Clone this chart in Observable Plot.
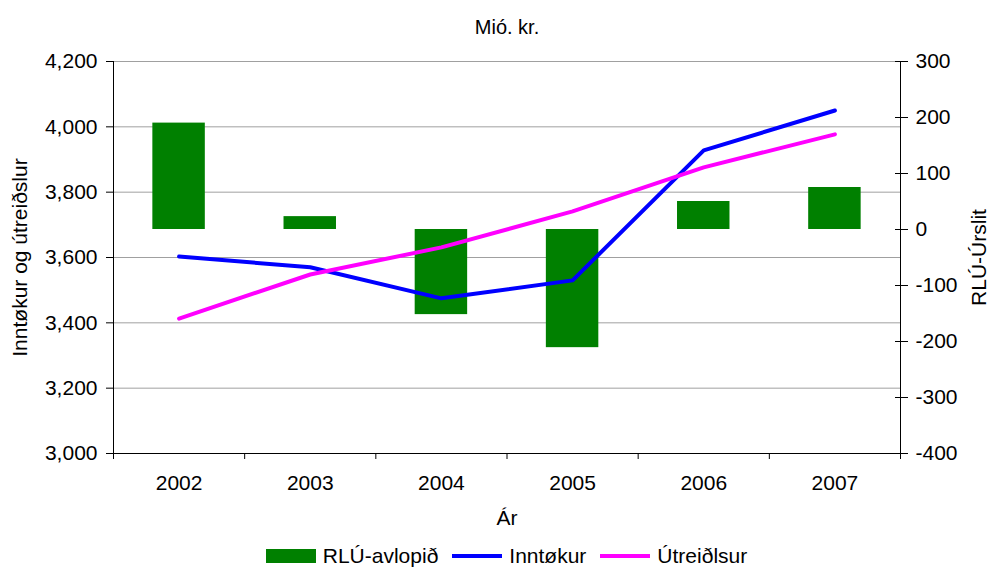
<!DOCTYPE html>
<html>
<head>
<meta charset="utf-8">
<script src="https://cdn.jsdelivr.net/npm/d3@7"></script>
<script src="https://cdn.jsdelivr.net/npm/@observablehq/plot@0.6"></script>
<style>
  body { margin: 0; background: #fff; font-family: "Liberation Sans", Arial, sans-serif; }
  #legend { display: flex; justify-content: center; align-items: center; padding-left: 24px; font-size: 21px; color: #000; height: 26px; margin-top: 3px; line-height: 24px; }
  #legend .item { display: flex; align-items: center; margin: 0 7px; }
  #legend .sw { display: inline-block; width: 50px; margin-right: 7px; }
</style>
</head>
<body>
<div id="chart"></div>
<div id="legend"></div>
<script>
const years = [2002, 2003, 2004, 2005, 2006, 2007];
const avlopid = [190, 23, -152, -211, 50, 75];
const inntokur = [3603, 3570, 3475, 3530, 3928, 4050];
const utreidslur = [3413, 3548, 3631, 3741, 3876, 3977];
const leftTicks = [3000, 3200, 3400, 3600, 3800, 4000, 4200];
const rightTicks = [-400, -300, -200, -100, 0, 100, 200, 300];
const seriesNames = ["RLÚ-avlopið", "Inntøkur", "Útreiðlsur"];
const seriesColors = ["#008000", "#0000ff", "#ff00ff"];

const leftDomain = [3000, 4200];
const rightDomain = [-400, 300];
const xDomain = [years[0] - 0.5, years[years.length - 1] + 0.5];
const boundaries = d3.range(xDomain[0], xDomain[1] + 0.01, 1);
const r2l = v => leftDomain[0] + (v - rightDomain[0]) * (leftDomain[1] - leftDomain[0]) / (rightDomain[1] - rightDomain[0]);
const l2r = v => rightDomain[0] + (v - leftDomain[0]) * (rightDomain[1] - rightDomain[0]) / (leftDomain[1] - leftDomain[0]);

const bars = years.map((y, i) => ({year: y, v: avlopid[i]}));
const lineA = years.map((y, i) => ({year: y, v: inntokur[i]}));
const lineB = years.map((y, i) => ({year: y, v: utreidslur[i]}));
const rightMapped = rightTicks.map(r2l);
const fmt = d3.format(",");

const chart = Plot.plot({
  width: 989,
  height: 540,
  marginLeft: 113,
  marginRight: 89,
  marginTop: 61,
  marginBottom: 87,
  style: {fontFamily: "'Liberation Sans', Arial, sans-serif", fontSize: "21px", color: "#000", background: "#fff"},
  x: {domain: xDomain},
  y: {domain: leftDomain},
  marks: [
    Plot.ruleY(leftTicks.slice(1), {stroke: "#a0a0a0", strokeWidth: 1}),
    Plot.rectY(bars, {x1: d => d.year - 0.2, x2: d => d.year + 0.2, y1: () => r2l(0), y2: d => r2l(d.v), fill: seriesColors[0]}),
    Plot.lineY(lineA, {x: "year", y: "v", stroke: seriesColors[1], strokeWidth: 4}),
    Plot.lineY(lineB, {x: "year", y: "v", stroke: seriesColors[2], strokeWidth: 4}),
    Plot.ruleX([xDomain[0]], {stroke: "#000"}),
    Plot.ruleX([xDomain[1]], {stroke: "#000"}),
    Plot.ruleY([leftDomain[0]], {stroke: "#000"}),
    Plot.axisY(leftTicks, {anchor: "left", tickSize: 7, tickPadding: 9, tickFormat: fmt, label: null, fontSize: 21}),
    Plot.axisY(rightMapped, {anchor: "right", tickSize: 13, dx: -6, tickFormat: () => "", label: null}),
    Plot.axisY(rightMapped, {anchor: "right", tickSize: 0, tickPadding: 15, tickFormat: d => String(Math.round(l2r(d))), label: null, fontSize: 21}),
    Plot.axisX(boundaries, {tickSize: 6, tickFormat: () => "", label: null}),
    Plot.axisX(years, {tickSize: 0, tickPadding: 22, tickFormat: d3.format("d"), label: null, fontSize: 21}),
    Plot.text(["Mió. kr."], {frameAnchor: "top", dy: -34, lineAnchor: "middle", fontSize: 20}),
    Plot.text(["Ár"], {frameAnchor: "bottom", dy: 65, lineAnchor: "middle", fontSize: 21}),
    Plot.text(["Inntøkur og útreiðslur"], {frameAnchor: "left", dx: -93, rotate: -90, textAnchor: "middle", lineAnchor: "middle", fontSize: 21}),
    Plot.text(["RLÚ-Úrslit"], {frameAnchor: "right", dx: 79, rotate: -90, textAnchor: "middle", lineAnchor: "middle", fontSize: 21})
  ]
});
document.getElementById("chart").appendChild(chart);

const legend = document.getElementById("legend");
seriesNames.forEach((name, i) => {
  const item = document.createElement("span");
  item.className = "item";
  const sw = document.createElement("span");
  sw.className = "sw";
  sw.style.background = seriesColors[i];
  sw.style.height = i === 0 ? "14px" : "4px";
  item.appendChild(sw);
  item.appendChild(document.createTextNode(name));
  legend.appendChild(item);
});
</script>
</body>
</html>
